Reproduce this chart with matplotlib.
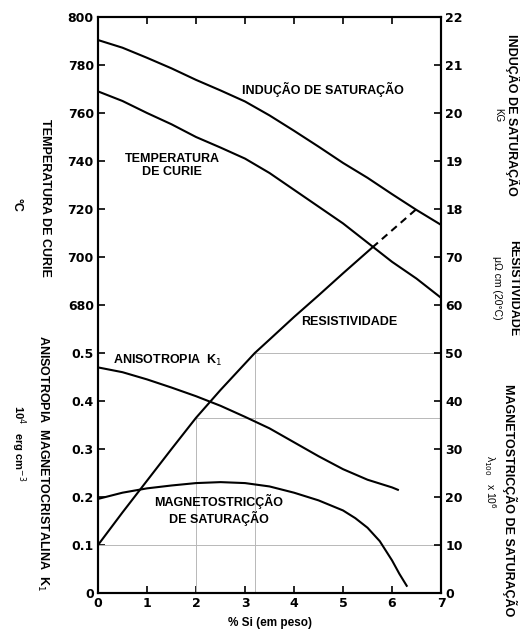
import matplotlib
matplotlib.use('Agg')
import matplotlib.pyplot as plt

plt.rcParams['font.family'] = ['Liberation Sans', 'DejaVu Sans']

# Valores (x = % Si em peso)
si_inducao = [0, 0.5, 1, 1.5, 2, 2.5, 3, 3.5, 4, 4.5, 5, 5.5, 6, 6.5, 7]
inducao_kG = [21.52, 21.36, 21.15, 20.93, 20.69, 20.47, 20.24, 19.95, 19.63,
              19.30, 18.96, 18.65, 18.31, 17.98, 17.67]

si_curie = [0, 0.5, 1, 1.5, 2, 2.5, 3, 3.5, 4, 4.5, 5, 5.5, 6, 6.5, 7]
curie_C  = [769, 765, 760, 755.3, 750, 745.6, 741, 735, 728, 721, 714, 706, 698, 691, 683]

si_resist = [0, 0.5, 1, 1.5, 2, 2.5, 3, 3.2, 3.5, 4, 4.5, 5, 5.6]
resist    = [10, 16.8, 23.4, 30, 36.5, 42.3, 47.8, 50, 52.8, 57.5, 62, 66.6, 72]
si_resist_tracejado = [5.6, 6.5]
resist_tracejado    = [72, 80]

si_aniso = [0, 0.5, 1, 1.5, 2, 2.5, 3, 3.5, 4, 4.5, 5, 5.5, 6, 6.12]
aniso_K1 = [0.47, 0.46, 0.445, 0.428, 0.41, 0.39, 0.367, 0.343, 0.314, 0.285,
            0.258, 0.236, 0.22, 0.215]

si_magneto = [0, 0.5, 1, 1.5, 2, 2.5, 3, 3.5, 4, 4.5, 5, 5.25, 5.5, 5.75, 6.0, 6.15, 6.3]
magneto    = [19.6, 20.9, 21.8, 22.4, 22.9, 23.1, 22.9, 22.2, 20.9, 19.3, 17.2,
              15.6, 13.6, 10.8, 6.8, 4.0, 1.5]

x_ticks      = [0, 1, 2, 3, 4, 5, 6, 7]
left_labels  = ['0', '0.1', '0.2', '0.3', '0.4', '0.5', '680', '700', '720', '740', '760', '780', '800']
right_labels = ['0', '10', '20', '30', '40', '50', '60', '70', '18', '19', '20', '21', '22']

# pontos das linhas de referência (resistividade 36.5 em 2 % e 50 em 3.2 %)
guia_si  = [2, 3.2]
guia_res = [36.5, 50]


# cada escala ocupa uma parte do mesmo eixo vertical (0..12 divisões)
def u_curie(t):
    return [6 + (v - 680) / 20 for v in t]

def u_inducao(b):
    return [v - 10 for v in b]

def u_dez(v_list):
    return [v / 10 for v in v_list]

def u_aniso(k):
    return [v * 10 for v in k]


fig = plt.figure(figsize=(5.2, 6.32), dpi=100)
ax = fig.add_axes([0.1885, 0.0617, 0.6596, 0.9114])
ax.set_xlim(0, 7)
ax.set_ylim(0, 12)

grey = '#b8b8b8'
ax.plot([0, 7], [1, 1], color=grey, lw=0.7)
for gx, gr in zip(guia_si, guia_res):
    ax.plot([gx, 7], [gr / 10, gr / 10], color=grey, lw=0.7)
    ax.plot([gx, gx], [0, gr / 10], color=grey, lw=0.7)

lw = 1.5
ax.plot(si_inducao, u_inducao(inducao_kG), color='black', lw=lw)
ax.plot(si_curie, u_curie(curie_C), color='black', lw=lw)
ax.plot(si_resist, u_dez(resist), color='black', lw=lw)
ax.plot(si_resist_tracejado, u_dez(resist_tracejado), color='black', lw=lw,
        linestyle=(0, (3.5, 2.5)))
ax.plot(si_aniso, u_aniso(aniso_K1), color='black', lw=lw)
ax.plot(si_magneto, u_dez(magneto), color='black', lw=lw)

for s in ax.spines.values():
    s.set_linewidth(1.5)

tick_font = dict(family='DejaVu Sans', weight='bold', size=9)

ax.set_xticks(x_ticks)
ax.set_xticklabels([str(v) for v in x_ticks], **tick_font)
ax.set_yticks(range(13))
ax.set_yticklabels(left_labels, **tick_font)
ax.tick_params(axis='both', direction='in', length=5, width=1.2, pad=3)
ax.tick_params(top=True)

ax2 = ax.twinx()
ax2.set_ylim(0, 12)
ax2.set_yticks(range(13))
ax2.set_yticklabels(right_labels, **tick_font)
ax2.tick_params(axis='y', direction='in', length=5, width=1.2, pad=3)
for s in ax2.spines.values():
    s.set_linewidth(1.5)

# rótulos das curvas
lab = dict(weight='bold', size=9, ha='center', va='center')
ax.text(4.60, 10.48, 'INDUÇÃO DE SATURAÇÃO', **lab)
ax.text(1.51, 8.90, 'TEMPERATURA\nDE CURIE', linespacing=1.1, **lab)
ax.text(5.12, 5.65, 'RESISTIVIDADE', **lab)
ax.text(0.31, 4.85, 'ANISOTROPIA  K$_1$', weight='bold', size=9, ha='left', va='center')
ax.text(2.46, 1.73, 'MAGNETOSTRICÇÃO\nDE SATURAÇÃO', linespacing=1.1, **lab)


# títulos dos eixos (posições em pixels da figura)
def ftext(px, py, s, **kw):
    fig.text(px / 520, 1 - py / 632, s, rotation=-90, ha='center', va='center', **kw)

ax_font = dict(weight='bold', size=9)
ftext(45, 198, 'TEMPERATURA DE CURIE', **ax_font)
ftext(17, 205, '°C', **ax_font)
ftext(43, 463, 'ANISOTROPIA  MAGNETOCRISTALINA  K$_1$', **ax_font)
ftext(18, 443, '10$^4$   erg cm$^{-3}$', weight='bold', size=8)
ftext(513, 115, 'INDUÇÃO DE SATURAÇÃO', **ax_font)
ftext(498, 115, 'KG', size=7)
ftext(513, 288, 'RESISTIVIDADE', **ax_font)
ftext(497, 288, 'μΩ cm (20°C)', size=7.5)
ftext(510, 500, 'MAGNETOSTRICÇÃO DE SATURAÇÃO', **ax_font)
ftext(490, 482, 'λ$_{100}$   x 10$^6$', size=7.5)

fig.text(270 / 520, 1 - 623 / 632, '% Si (em peso)', ha='center', va='center',
         weight='bold', size=8.5)

fig.savefig('out.png', dpi=100, facecolor='white')
